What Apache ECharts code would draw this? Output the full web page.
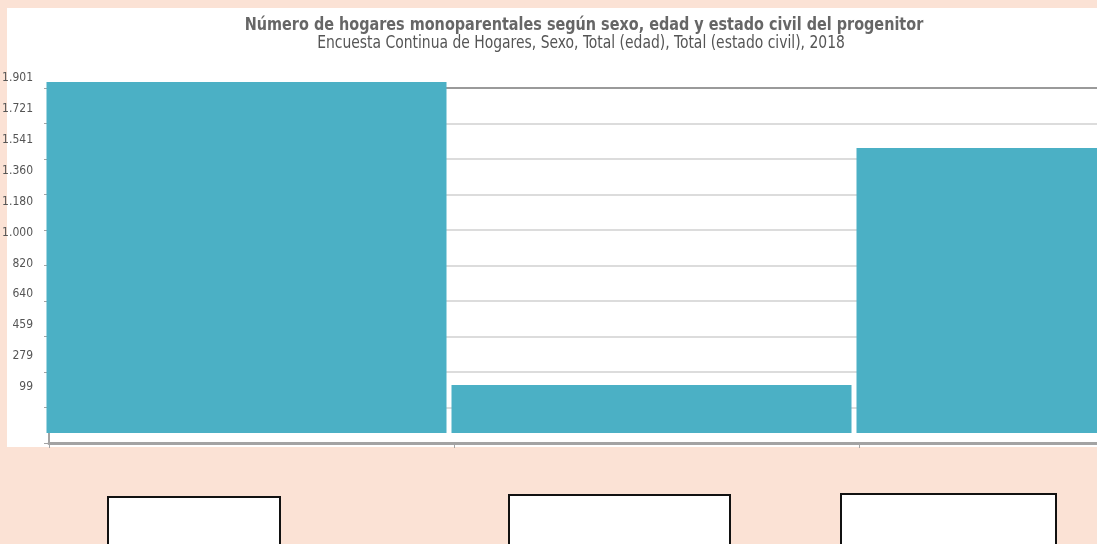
<!DOCTYPE html>
<html>
<head>
<meta charset="utf-8">
<script src="https://cdn.jsdelivr.net/npm/echarts@6/dist/echarts.min.js"></script>
<style>
  html, body { margin: 0; padding: 0; background: #fbe2d5; }
  #chart { width: 1097px; height: 544px; }
</style>
</head>
<body>
<div id="chart"></div>
<script>
var categorias = ["Ambos sexos", "Hombres", "Mujeres"];
var hogares = [1901, 260, 1543];
var etiquetasEje = ["99", "279", "459", "640", "820", "1.000", "1.180", "1.360", "1.541", "1.721", "1.901"];
var titulo = "Número de hogares monoparentales según sexo, edad y estado civil del progenitor";
var subtitulo = "Encuesta Continua de Hogares, Sexo, Total (edad), Total (estado civil), 2018";

(function () {
  var myChart = echarts.init(document.getElementById("chart"));
  var fuente = "'DejaVu Sans Condensed', 'Liberation Sans Narrow', Arial, sans-serif";

  var option = {
    backgroundColor: "#fbe2d5",
    animation: false,
    grid: [
      // barras (la tercera categoría sigue fuera de la ventana)
      { left: 44, width: 1215, top: 82, height: 351, outerBoundsMode: "none", containLabel: false },
      // rejilla y ejes
      { left: 49, width: 1215, top: 88, height: 355, outerBoundsMode: "none", containLabel: false },
      // etiquetas del eje vertical
      { left: 36, width: 10, top: 78, height: 309, outerBoundsMode: "none", containLabel: false },
    ],
    xAxis: [
      {
        gridIndex: 0,
        type: "category",
        data: categorias,
        show: false,
      },
      {
        gridIndex: 1,
        type: "category",
        data: categorias,
        axisLine: { lineStyle: { color: "#a3a3a3", width: 3 } },
        axisTick: { show: true, length: 5, lineStyle: { color: "#a3a3a3" } },
        axisLabel: { show: false },
        splitLine: { show: false },
      },
      {
        gridIndex: 1,
        type: "category",
        data: categorias,
        position: "top",
        axisLine: { lineStyle: { color: "#9a9a9a", width: 2 } },
        axisTick: { show: false },
        axisLabel: { show: false },
      },
      {
        gridIndex: 2,
        type: "value",
        show: false,
      },
    ],
    yAxis: [
      {
        gridIndex: 0,
        type: "value",
        min: 0,
        max: 1901,
        show: false,
      },
      {
        gridIndex: 1,
        type: "value",
        min: 0,
        max: 10,
        interval: 1,
        axisLine: { show: true, lineStyle: { color: "#a3a3a3", width: 2 } },
        axisTick: { show: true, length: 5, lineStyle: { color: "#a3a3a3" } },
        axisLabel: { show: false },
        splitLine: { show: true, lineStyle: { color: "#dcdcdc", width: 2 } },
      },
      {
        gridIndex: 2,
        type: "value",
        min: 0,
        max: 10,
        interval: 1,
        axisLine: { show: false },
        axisTick: { show: false },
        splitLine: { show: false },
        axisLabel: {
          margin: 3,
          color: "#555",
          fontSize: 12,
          fontFamily: fuente,
          formatter: function (v) {
            return etiquetasEje[v];
          },
        },
      },
    ],
    graphic: [
      {
        type: "rect",
        z: -10,
        shape: { x: 7, y: 8, width: 1090, height: 439 },
        style: { fill: "#ffffff" },
      },
      {
        type: "text",
        x: 584,
        y: 25,
        scaleX: 0.89,
        style: {
          text: titulo,
          fill: "#666",
          font: "bold 18px " + fuente,
          textAlign: "center",
          textVerticalAlign: "middle",
        },
      },
      {
        type: "text",
        x: 581,
        y: 44,
        scaleX: 0.91,
        style: {
          text: subtitulo,
          fill: "#555",
          font: "17px " + fuente,
          textAlign: "center",
          textVerticalAlign: "middle",
        },
      },
      {
        type: "rect",
        shape: { x: 108, y: 497, width: 172, height: 60 },
        style: { fill: "#fff", stroke: "#111", lineWidth: 2 },
      },
      {
        type: "rect",
        shape: { x: 509, y: 495, width: 221, height: 60 },
        style: { fill: "#fff", stroke: "#111", lineWidth: 2 },
      },
      {
        type: "rect",
        shape: { x: 841, y: 494, width: 215, height: 60 },
        style: { fill: "#fff", stroke: "#111", lineWidth: 2 },
      },
    ],
    series: [
      {
        name: "Hogares",
        type: "bar",
        xAxisIndex: 0,
        yAxisIndex: 0,
        data: hogares,
        barWidth: 400,
        z: 5,
        itemStyle: { color: "#4bb0c5" },
      },
    ],
  };

  myChart.setOption(option);
  window.addEventListener("resize", function () {
    myChart.resize();
  });
})();
</script>
</body>
</html>
